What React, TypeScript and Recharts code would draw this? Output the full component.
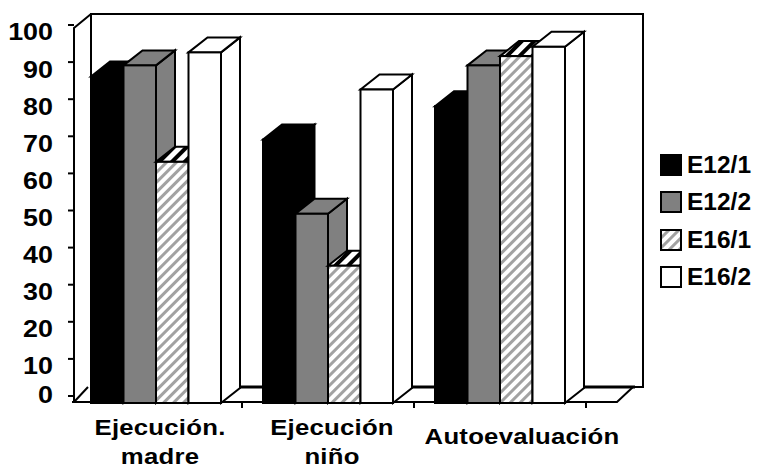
import { Bar, BarChart, Legend, XAxis, YAxis, usePlotArea } from 'recharts';

const categories = ['Ejecución. madre', 'Ejecución niño', 'Autoevaluación'];
const e121 = [88, 71, 80];
const e122 = [91, 51, 91];
const e161 = [65, 37, 93.5];
const e162 = [94.5, 84.5, 96];
const yTicks = [0, 10, 20, 30, 40, 50, 60, 70, 80, 90, 100];

const rows = categories.map((name, i) => ({
  name,
  'E12/1': e121[i],
  'E12/2': e122[i],
  'E16/1': e161[i],
  'E16/2': e162[i],
}));

const FONT = '"Liberation Sans", Arial, sans-serif';
const DEPTH_X = 19;
const DEPTH_Y = 15;
// the wall runs further right than the floor
const WALL_EXTRA = 57;
const FLOOR_EXTRA = 47;
// wide bold lettering
const TEXT_STRETCH = 1.12;

// label nudges per category, the last one sits off-centre
const labelShift = [4, 4, 22];

function Frame() {
  const plot = usePlotArea();
  if (!plot) return null;
  const left = plot.x + 4;
  const right = plot.x + plot.width;
  const bottom = plot.y + plot.height - 1;
  const top = plot.y - 4;
  const band = plot.width / categories.length;
  const backX = left + 17;
  const backB = bottom - DEPTH_Y;
  const backT = top - DEPTH_Y + 1;
  const wallR = right + WALL_EXTRA;
  const floorR = right + FLOOR_EXTRA;
  return (
    <g>
      <defs>
        <pattern id="hatch" width="7" height="7" patternUnits="userSpaceOnUse" patternTransform="rotate(45)">
          <rect width="7" height="7" fill="#fff" />
          <rect width="3" height="7" fill="#a2a2a2" />
        </pattern>
        <pattern id="hatchTop" width="9" height="9" patternUnits="userSpaceOnUse" patternTransform="rotate(45)">
          <rect width="9" height="9" fill="#fff" />
          <rect width="4" height="9" fill="#000" />
        </pattern>
      </defs>
      <g fill="none" stroke="#000" strokeWidth={2}>
        <path d={`M${backX} ${backB}V${backT}H${wallR}V${backB}H${floorR}`} />
        <path d={`M${left} ${bottom}V${top}L${backX} ${backT}`} />
        <path d={`M${left} ${bottom}L${backX - 3} ${backB}`} />
        <path d={`M${left - 2} ${bottom}H${floorR - 16}L${floorR} ${backB}`} />
        <path d={`M${backX} ${backB}H${floorR + 2}`} strokeWidth={3} />
        {categories.map((c, i) => {
          const x = plot.x + band * (i + 1);
          return <path key={c} d={`M${x} ${bottom}v6`} />;
        })}
      </g>
    </g>
  );
}

function Bar3D(props: any) {
  const { x, y, width, height, fill } = props;
  const topFill = fill === 'url(#hatch)' ? 'url(#hatchTop)' : fill;
  const r = x + width;
  const b = y + height;
  return (
    <g stroke="#000" strokeWidth={2} strokeLinejoin="miter">
      <path d={`M${r} ${y}l${DEPTH_X} ${-DEPTH_Y}V${b - DEPTH_Y}L${r} ${b}Z`} fill={fill} />
      <path d={`M${x} ${y}l${DEPTH_X} ${-DEPTH_Y}H${r + DEPTH_X}L${r} ${y}Z`} fill={topFill} />
      <rect x={x} y={y} width={width} height={height} fill={fill} />
    </g>
  );
}

function YTick(props: any) {
  const { y, payload } = props;
  const v = payload.value;
  // tick marks sit on the front edge of the wall, above the label's line
  const labelY = v === 0 ? y - 8 : y;
  return (
    <g>
      <line x1={68} x2={74} y1={y - 7} y2={y - 7} stroke="#000" strokeWidth={2} />
      <text
        transform={`translate(53 ${labelY}) scale(${TEXT_STRETCH} 1)`}
        textAnchor="end"
        dominantBaseline="central"
        fontFamily={FONT}
        fontWeight="bold"
        fontSize={24}
        fill="#000"
      >
        {v}
      </text>
    </g>
  );
}

function XTick(props: any) {
  const { x, payload, index } = props;
  const name: string = payload.value;
  const lines = name.includes('Ejecuci') ? name.split(' ') : [name];
  const firstY = lines.length > 1 ? 427 : 436;
  return (
    <g>
      {lines.map((line, i) => (
        <text
          key={line}
          transform={`translate(${x + labelShift[index]} ${firstY + i * 29}) scale(${TEXT_STRETCH} 1)`}
          textAnchor="middle"
          dominantBaseline="central"
          fontFamily={FONT}
          fontWeight="bold"
          fontSize={23}
          letterSpacing={0.2}
          fill="#000"
        >
          {line}
        </text>
      ))}
    </g>
  );
}

function LegendBox(props: any) {
  const items = props.payload ?? [];
  return (
    <div>
      {items.map((item: any) => (
        <div key={item.value} style={{ display: 'flex', alignItems: 'center', height: 37.5 }}>
          <svg width={24} height={24} style={{ marginRight: 4 }}>
            <rect x={2} y={2} width={20} height={20} fill={item.color} stroke="#000" strokeWidth={2} />
          </svg>
          <span style={{ fontFamily: FONT, fontWeight: 'bold', fontSize: 24.5, color: '#000' }}>{item.value}</span>
        </div>
      ))}
    </div>
  );
}

export default function App() {
  return (
    <div style={{ position: 'absolute', left: 0, top: 0, width: 758, height: 465 }}>
      <BarChart
        width={758}
        height={465}
        data={rows}
        margin={{ top: 32, right: 172, bottom: 0, left: 0 }}
        barSize={32.5}
        barGap={0}
      >
        <Frame />
        <XAxis dataKey="name" height={62} axisLine={false} tickLine={false} tick={XTick} interval={0} />
        <YAxis
          width={70}
          domain={[0, 100]}
          ticks={yTicks}
          axisLine={false}
          tickLine={false}
          tick={YTick}
          interval={0}
        />
        <Legend
          layout="vertical"
          align="center"
          verticalAlign="middle"
          itemSorter={null}
          content={LegendBox}
          wrapperStyle={{ left: 659, top: 146, width: 99 }}
        />
        <Bar dataKey="E12/1" fill="#000" shape={Bar3D} isAnimationActive={false} />
        <Bar dataKey="E12/2" fill="#808080" shape={Bar3D} isAnimationActive={false} />
        <Bar dataKey="E16/1" fill="url(#hatch)" shape={Bar3D} isAnimationActive={false} />
        <Bar dataKey="E16/2" fill="#fff" shape={Bar3D} isAnimationActive={false} />
      </BarChart>
    </div>
  );
}
